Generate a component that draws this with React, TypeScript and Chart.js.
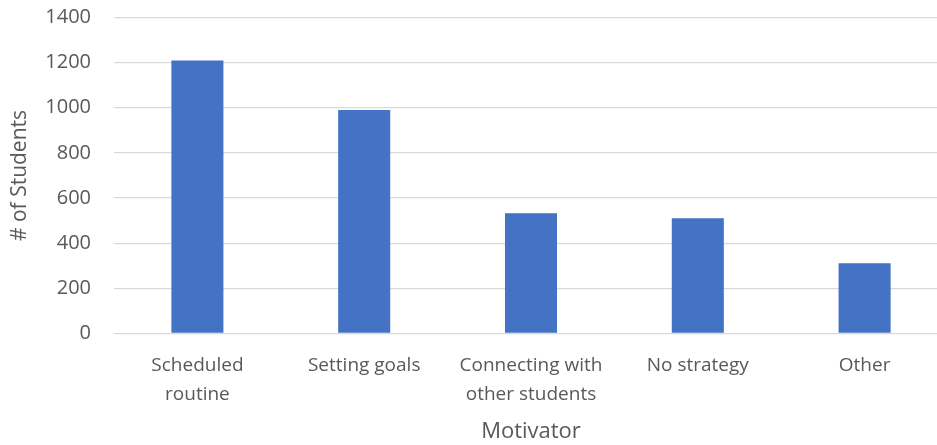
import React, { useEffect, useRef } from "react";
import { Chart, registerables } from "chart.js";

Chart.register(...registerables);

const categories: (string | string[])[] = [
  ["Scheduled", "routine"],
  "Setting goals",
  ["Connecting with", "other students"],
  "No strategy",
  "Other",
];
const students: number[] = [1210, 990, 533, 511, 311];
const yTicksMax = 1400;
const yTickStep = 200;

const FONT = "'Open Sans', sans-serif";
const TEXT = "#595959";

export default function App() {
  const ref = useRef<HTMLCanvasElement | null>(null);

  useEffect(() => {
    document.body.style.margin = "0";
    const canvas = ref.current;
    if (!canvas) return;
    const chart = new Chart(canvas, {
      type: "bar",
      data: {
        labels: categories,
        datasets: [
          {
            label: "# of Students",
            data: students,
            backgroundColor: "#4472C4",
            borderWidth: 0,
            barPercentage: 1,
            categoryPercentage: 0.312,
          },
        ],
      },
      options: {
        animation: false,
        responsive: false,
        maintainAspectRatio: false,
        layout: { padding: { top: 17.5, right: 0, left: 0, bottom: 0 } },
        plugins: {
          legend: { display: false },
          tooltip: { enabled: false },
        },
        scales: {
          x: {
            grid: { display: false },
            border: { display: false },
            ticks: {
              color: TEXT,
              font: { family: FONT, size: 19, lineHeight: 1.55 },
              padding: 9,
              maxRotation: 0,
              autoSkip: false,
            },
            title: {
              display: true,
              text: "Motivator",
              color: TEXT,
              font: { family: FONT, size: 22 },
              padding: { top: 8, bottom: 0 },
            },
            afterFit: (scale: any) => {
              scale.height = 111.5;
            },
          },
          y: {
            min: 0,
            max: yTicksMax,
            grid: { color: "#D9D9D9", lineWidth: 1.3, drawTicks: false },
            border: { display: false },
            ticks: {
              stepSize: yTickStep,
              color: TEXT,
              font: { family: FONT, size: 20 },
              padding: 23,
              callback: (v: any) => String(v),
            },
            title: {
              display: true,
              text: "# of Students",
              color: TEXT,
              font: { family: FONT, size: 21 },
              padding: { top: 7, bottom: 0 },
            },
            afterFit: (scale: any) => {
              scale.width = 114;
              scale.paddingTop = 0;
              scale.paddingBottom = 0;
            },
          },
        },
      },
    });
    return () => chart.destroy();
  }, []);

  return (
    <div style={{ width: 937, height: 445, overflow: "hidden", position: "relative", background: "#fff" }}>
      <canvas ref={ref} width={948} height={445} style={{ display: "block" }} />
    </div>
  );
}
